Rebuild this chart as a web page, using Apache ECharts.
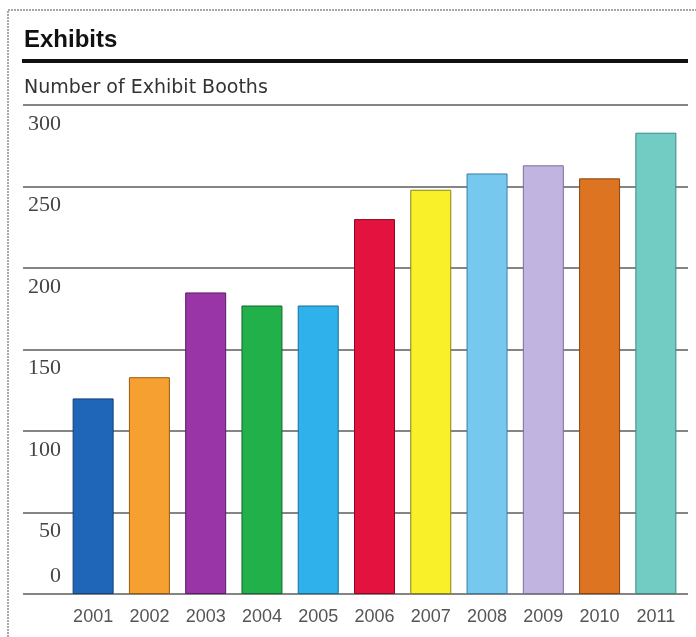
<!DOCTYPE html>
<html>
<head>
<meta charset="utf-8">
<title>Exhibits</title>
<script src="https://cdn.jsdelivr.net/npm/echarts@6/dist/echarts.min.js"></script>
<style>
  html, body { margin: 0; padding: 0; background: #ffffff; }
  #chart { width: 696px; height: 637px; }
</style>
</head>
<body>
<div id="chart"></div>
<script>
// Number of exhibit booths per year
var years = ['2001', '2002', '2003', '2004', '2005', '2006', '2007', '2008', '2009', '2010', '2011'];
var booths = [120, 133, 185, 177, 177, 230, 248, 258, 263, 255, 283];
var barColors = ['#1f66b8', '#f5a030', '#9a35a8', '#22b04a', '#2fb2ec', '#e4123e',
                 '#f9f02a', '#76c8ee', '#c2b4e0', '#dc7422', '#72ccc4'];
var barEdges = ['#123f78', '#9c5a10', '#5a1a66', '#136a2c', '#1a6e94', '#8a0a24',
                '#8a8410', '#3d7ea0', '#7a6e98', '#8a4410', '#3a8882'];
var yTicks = [0, 50, 100, 150, 200, 250, 300];

var yMin = yTicks[0];
var yMax = yTicks[yTicks.length - 1];
var yStep = yTicks[1] - yTicks[0];

var chart = echarts.init(document.getElementById('chart'), null, { renderer: 'canvas' });

var labelFont = {
  fontFamily: '"Liberation Serif", "DejaVu Serif", serif',
  fontSize: 22,
  lineHeight: 22,
  color: '#444444'
};

chart.setOption({
  animation: false,
  backgroundColor: '#ffffff',
  title: [
    {
      text: 'Exhibits',
      left: 19,
      top: 23,
      textStyle: {
        fontFamily: '"Liberation Sans", Arial, sans-serif',
        fontWeight: 'bold',
        fontSize: 24,
        color: '#111111'
      }
    },
    {
      text: 'Number of Exhibit Booths',
      left: 19,
      top: 74,
      textStyle: {
        fontFamily: '"DejaVu Sans", "Liberation Sans", sans-serif',
        fontWeight: 'normal',
        fontSize: 19,
        color: '#333333'
      }
    }
  ],
  graphic: [
    {
      type: 'polyline',
      shape: { points: [[8, 637], [8, 10], [696, 10]] },
      style: { stroke: '#8a8a8a', lineWidth: 1.5, lineDash: [2, 1], fill: null },
      silent: true
    },
    {
      type: 'line',
      shape: { x1: 22, y1: 61, x2: 688, y2: 61 },
      style: { stroke: '#111111', lineWidth: 4 },
      silent: true
    }
  ],
  grid: [
    // frame for the gridlines and value labels
    { left: 23, right: 8, top: 105, bottom: 43 },
    // plotting area for the bars
    { left: 65, right: 12, top: 105, bottom: 43 }
  ],
  xAxis: [
    {
      gridIndex: 0,
      type: 'value',
      show: false,
      min: 0,
      max: 1
    },
    {
      gridIndex: 1,
      type: 'category',
      data: years,
      boundaryGap: true,
      axisLine: { show: false },
      axisTick: { show: false },
      axisLabel: {
        interval: 0,
        margin: 13,
        fontFamily: '"Liberation Sans", Arial, sans-serif',
        fontSize: 18,
        lineHeight: 20,
        color: '#555555'
      }
    }
  ],
  yAxis: [
    {
      gridIndex: 0,
      type: 'value',
      min: yMin,
      max: yMax,
      interval: yStep,
      axisLine: { show: false },
      axisTick: { show: false },
      splitLine: {
        show: true,
        lineStyle: { color: '#5c5c5c', width: 1.5 }
      },
      axisLabel: {
        inside: true,
        margin: 38,
        align: 'right',
        verticalAlign: 'middle',
        formatter: function (v) {
          return v === 0 ? '{z|' + v + '}' : '{n|' + v + '}';
        },
        rich: {
          n: Object.assign({ padding: [38, 0, 0, 0] }, labelFont),
          z: Object.assign({ padding: [0, 0, 36, 0] }, labelFont)
        }
      }
    },
    {
      gridIndex: 1,
      type: 'value',
      min: yMin,
      max: yMax,
      interval: yStep,
      show: false,
      splitLine: { show: false }
    }
  ],
  series: [
    {
      type: 'bar',
      xAxisIndex: 1,
      yAxisIndex: 1,
      barWidth: 41,
      data: booths.map(function (v, i) {
        return {
          value: v,
          itemStyle: {
            color: barColors[i],
            borderColor: barEdges[i],
            borderWidth: 1
          }
        };
      })
    }
  ]
});
</script>
</body>
</html>
